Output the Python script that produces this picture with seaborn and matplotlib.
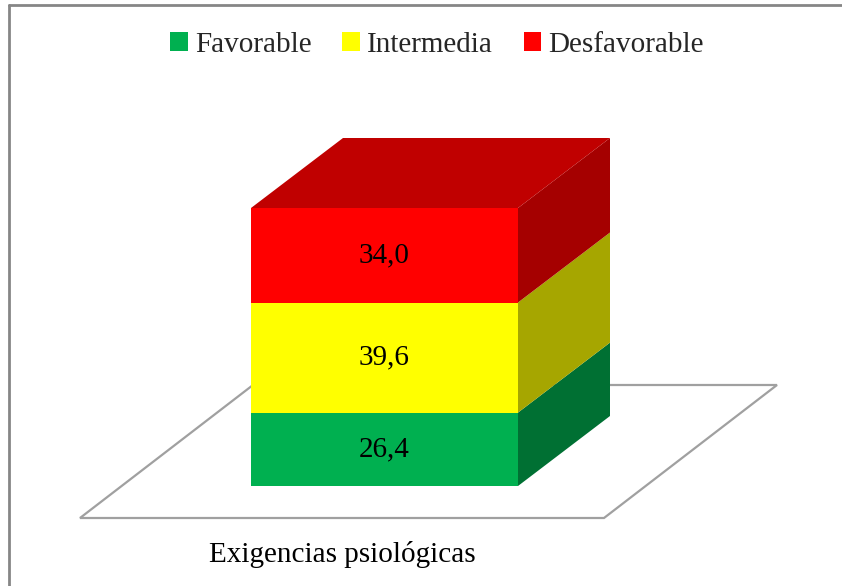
import matplotlib
matplotlib.use("Agg")
import matplotlib.pyplot as plt
from matplotlib.patches import Polygon, Patch
from matplotlib.lines import Line2D
import seaborn as sns
import pandas as pd
import numpy as np

# ---- data ----
categories = ["Exigencias psiológicas"]
series = ["Favorable", "Intermedia", "Desfavorable"]
values = [26.4, 39.6, 34.0]
labels = ["26,4", "39,6", "34,0"]
front_colors = ["#00B050", "#FFFF00", "#FF0000"]
side_colors = ["#007033", "#A6A600", "#A50000"]
top_color = "#C00000"

sns.set_theme(style="white")
plt.rcParams["font.family"] = ["Liberation Serif", "DejaVu Serif"]

W, H = 842, 586
fig = plt.figure(figsize=(W / 100, H / 100), dpi=100)
ax = fig.add_axes([0, 0, 1, 1])

# scales: 2.78 px per unit in y, 333.75 px per unit in x
py = 2.78
px = 333.75
base_px = 486
center_px = 384.5

bar_w = 0.8
ddx = 92 / px   # depth offsets
ddy = 70 / py

df = pd.DataFrame({"cat": [0] * 3, "serie": series, "val": values})
bottoms = np.concatenate([[0], np.cumsum(values)[:-1]])

for i, s in enumerate(series):
    sub = df[df.serie == s]
    sns.barplot(x=sub["cat"].astype(float).values, y=sub["val"].values, ax=ax,
                color=front_colors[i], width=bar_w, bottom=bottoms[i],
                native_scale=True, linewidth=0, saturation=1, zorder=3)

ax.set_xlim(-center_px / px, (W - center_px) / px)
ax.set_ylim(-(H - base_px) / py, base_px / py)
ax.axis("off")

x0, x1 = -bar_w / 2, bar_w / 2

# floor
fy = -32 / py
fl, fr = (80 - center_px) / px, (604 - center_px) / px
fdx, fdy = 173 / px, 133 / py
floor = Polygon([(fl, fy), (fr, fy), (fr + fdx, fy + fdy), (fl + fdx, fy + fdy)],
                closed=True, facecolor="white", edgecolor="#A0A0A0", lw=1.6, zorder=1)
ax.add_patch(floor)

# side faces and value labels
for i, v in enumerate(values):
    b = bottoms[i]
    t = b + v
    side = Polygon([(x1, b), (x1 + ddx, b + ddy), (x1 + ddx, t + ddy), (x1, t)],
                   closed=True, facecolor=side_colors[i], edgecolor="none", zorder=2)
    ax.add_patch(side)
    ax.text(0, b + v / 2, labels[i], ha="center", va="center", fontsize=21,
            color="black", zorder=5)

total = sum(values)
top = Polygon([(x0, total), (x1, total), (x1 + ddx, total + ddy), (x0 + ddx, total + ddy)],
              closed=True, facecolor=top_color, edgecolor="none", zorder=2)
ax.add_patch(top)

# category label
ax.text((fl + fr) / 2, -(555 - base_px) / py, categories[0], ha="center", va="center",
        fontsize=21, color="black")

# legend
handles = [Patch(facecolor=c, edgecolor="none") for c in front_colors]
fig.legend(handles, series, loc="center", bbox_to_anchor=(437 / W, 1 - 45 / H), ncol=3,
           frameon=False, fontsize=21, handlelength=0.6, handleheight=0.6,
           handletextpad=0.25, columnspacing=1.05)

# figure frame (top and left)
fig.add_artist(Line2D([9 / W, 1], [1 - 5 / H, 1 - 5 / H], color="#868686", lw=2,
                      transform=fig.transFigure))
fig.add_artist(Line2D([9 / W, 9 / W], [0, 1 - 5 / H], color="#868686", lw=2,
                      transform=fig.transFigure))

fig.savefig("out.png", dpi=100)
